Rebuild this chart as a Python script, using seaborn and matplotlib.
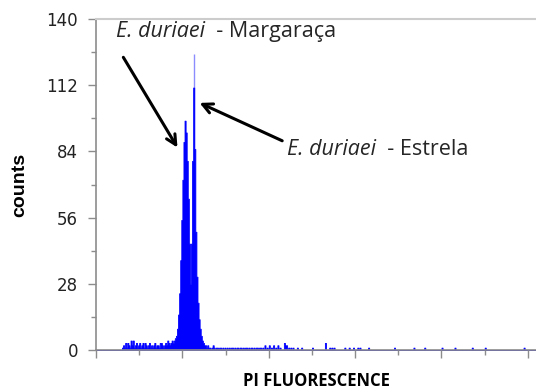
import matplotlib
matplotlib.use("Agg")
import matplotlib.pyplot as plt
from matplotlib.ticker import MultipleLocator
import pandas as pd
import seaborn as sns

# Histogram: channel (bin start) and counts
canal_ruido_esq = [60, 62.5, 65, 67.5, 70, 72.5, 75, 77.5, 80, 82.5, 85, 87.5, 90, 92.5, 95, 97.5,
                   100, 102.5, 105, 107.5, 110, 112.5, 115, 117.5, 120, 122.5, 125, 127.5, 130,
                   132.5, 135, 137.5, 140, 142.5, 145, 147.5, 150, 152.5, 155, 157.5, 160, 162.5,
                   165, 167.5, 170, 172.5, 175, 177.5, 180, 182.5, 185]
contagem_ruido_esq = [1, 2, 1, 3, 1, 3, 2, 1, 4, 2, 4, 1, 2, 3, 1, 2,
                      3, 1, 2, 3, 1, 3, 2, 1, 2, 3, 1, 2, 1,
                      2, 3, 1, 2, 2, 1, 3, 3, 2, 1, 2, 3, 2,
                      4, 3, 2, 3, 4, 3, 4, 5, 6]

canal_pico = [187.5, 190, 192.5, 195, 197.5, 200, 202.5, 205, 207.5, 210, 212.5, 215, 217.5,
              220, 222.5, 225, 227.5, 230, 232.5, 235, 237.5, 240, 242.5, 245, 247.5, 250]
contagem_pico = [9, 15, 24, 38, 55, 72, 88, 97, 92, 80, 64, 45, 28,
                 45, 80, 111, 85, 50, 31, 20, 13, 9, 6, 4, 3, 2]

canal_ruido_dir = [252.5, 255, 257.5, 260, 262.5, 267.5, 270, 272.5, 277.5, 280, 285, 287.5,
                   292.5, 297.5, 302.5, 307.5, 312.5, 315, 320, 325, 327.5, 332.5, 335, 340,
                   345, 347.5, 352.5, 357.5, 360, 365, 370, 372.5, 377.5, 380, 385, 390, 395,
                   400, 405, 410, 415, 420, 425, 435, 437.5, 440, 445, 450, 455, 465, 475, 500,
                   530, 540, 545, 550, 575, 585, 595, 605, 610, 630, 690, 735, 760, 800, 830,
                   870, 900, 990]
contagem_ruido_dir = [2, 1, 2, 1, 1, 1, 2, 1, 1, 1, 1, 1,
                      1, 1, 1, 1, 1, 1, 1, 1, 1, 1, 1, 1,
                      1, 1, 1, 1, 1, 1, 1, 1, 1, 1, 1, 2, 1,
                      2, 1, 2, 1, 2, 1, 3, 2, 2, 1, 1, 1, 1, 1, 1,
                      3, 1, 1, 1, 1, 1, 1, 1, 1, 1, 1, 1, 1, 1, 1,
                      1, 1, 1]

# thin single-channel spike on top of the second peak
canal_spike = [226]
contagem_spike = [125]

df = pd.DataFrame({
    "canal": canal_ruido_esq + canal_pico + canal_ruido_dir,
    "contagem": contagem_ruido_esq + contagem_pico + contagem_ruido_dir,
})
df["canal"] = df["canal"] + 1.25  # centre of each bin

fig = plt.figure(figsize=(5.36, 3.92), dpi=100)
ax = fig.add_axes([96 / 536, 42 / 392, 440.5 / 536, 331 / 392])
sns.set_style("ticks")

sns.histplot(data=df, x="canal", weights="contagem", binwidth=2.5, binrange=(0, 1020),
             color="#0000ff", edgecolor="#0000ff", alpha=1, linewidth=0.6,
             element="step", fill=True, ax=ax)
ax.vlines(canal_spike, 0, contagem_spike, color="#0000ff", alpha=0.45, linewidth=1)

ax.set_xlim(0, 1020)
ax.set_ylim(0, 140)
ax.set_yticks([0, 28, 56, 84, 112, 140])
ax.yaxis.set_minor_locator(MultipleLocator(14))
ax.xaxis.set_major_locator(MultipleLocator(200))
ax.xaxis.set_minor_locator(MultipleLocator(100))
ax.tick_params(axis="x", labelbottom=False)
ax.tick_params(axis="both", which="major", length=6, width=1, color="#8c8c8c",
               labelsize=12, labelcolor="#222222", pad=7)
ax.tick_params(axis="both", which="minor", length=3.5, width=1, color="#8c8c8c")
for lab in ax.get_yticklabels():
    lab.set_fontfamily("DejaVu Sans")

for lado in ["left", "bottom"]:
    ax.spines[lado].set_color("#8c8c8c")
    ax.spines[lado].set_linewidth(1.2)
ax.spines["top"].set_color("#cccccc")
ax.spines["top"].set_linewidth(1.5)
ax.spines["right"].set_visible(False)

ax.set_ylabel("counts", fontsize=14, fontweight="bold", family="Liberation Sans", labelpad=13)
ax.set_xlabel("PI FLUORESCENCE", fontsize=12, fontweight="bold", family="Open Sans", labelpad=9)

# annotations
t1 = ax.text(46, 132.4, "E. duriaei", fontsize=15.5, style="italic", family="Open Sans",
             va="baseline")
ax.annotate("  - Margaraça", xy=(1, 0), xycoords=t1, fontsize=15.5, family="Open Sans",
            va="bottom")
t2 = ax.text(442, 82.5, "E. duriaei", fontsize=15.5, style="italic", family="Open Sans",
             va="baseline")
ax.annotate("  - Estrela", xy=(1, 0), xycoords=t2, fontsize=15.5, family="Open Sans",
            va="bottom")

ax.annotate("", xy=(192, 84.6), xytext=(60, 124.8),
            arrowprops=dict(arrowstyle="->,head_length=0.7,head_width=0.35", color="black", lw=2.2))
ax.annotate("", xy=(234, 105), xytext=(437, 88),
            arrowprops=dict(arrowstyle="->,head_length=0.7,head_width=0.35", color="black", lw=2.2))

plt.savefig("out.png", dpi=100)
plt.close()
